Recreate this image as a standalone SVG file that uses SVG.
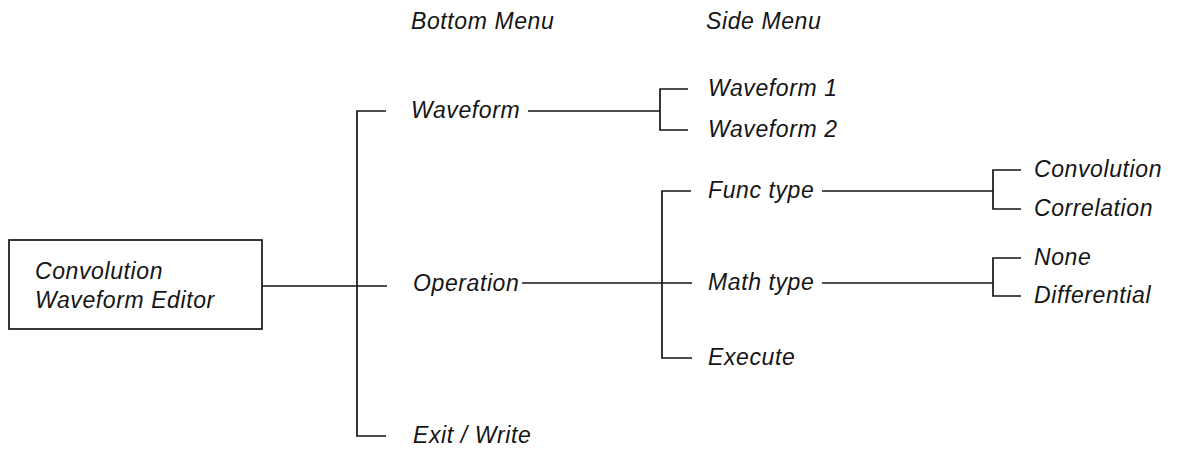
<svg xmlns="http://www.w3.org/2000/svg" width="1181" height="455" viewBox="0 0 1181 455">
<style>
text{font-family:"Liberation Sans",Arial,sans-serif;font-style:italic;font-size:23px;fill:#151515;letter-spacing:0.6px}
.c{fill:none;stroke:#151515;stroke-width:1.7}
</style>
<rect width="1181" height="455" fill="#fff"/>
<g id="headers">
<text x="411" y="29">Bottom Menu</text>
<text x="706" y="29">Side Menu</text>
</g>
<g id="connectors" class="c">
<path d="M262 286H387"/>
<path d="M386 111H357V436H386"/>
<path d="M528 111H660"/>
<path d="M688 89H660V130H688"/>
<path d="M522 283H692"/>
<path d="M691 191H662V358H692"/>
<path d="M822 191H993"/>
<path d="M1021 170H993V209H1021"/>
<path d="M822 283H993"/>
<path d="M1021 258H993V296H1021"/>
</g>
<g id="editor">
<rect x="9" y="240" width="253" height="89" fill="none" stroke="#151515" stroke-width="1.7"/>
<text x="35" y="279">Convolution</text>
<text x="35" y="308">Waveform Editor</text>
</g>
<g id="waveform"><text x="411" y="118">Waveform</text></g>
<g id="operation"><text x="413" y="291">Operation</text></g>
<g id="exit"><text x="413" y="443">Exit / Write</text></g>
<g id="waveform1"><text x="708" y="96">Waveform 1</text></g>
<g id="waveform2"><text x="708" y="137">Waveform 2</text></g>
<g id="functype"><text x="708" y="198">Func type</text></g>
<g id="mathtype"><text x="708" y="290">Math type</text></g>
<g id="execute"><text x="708" y="365">Execute</text></g>
<g id="convolution"><text x="1034" y="177">Convolution</text></g>
<g id="correlation"><text x="1034" y="216">Correlation</text></g>
<g id="none"><text x="1034" y="265">None</text></g>
<g id="differential"><text x="1034" y="303">Differential</text></g>
</svg>
